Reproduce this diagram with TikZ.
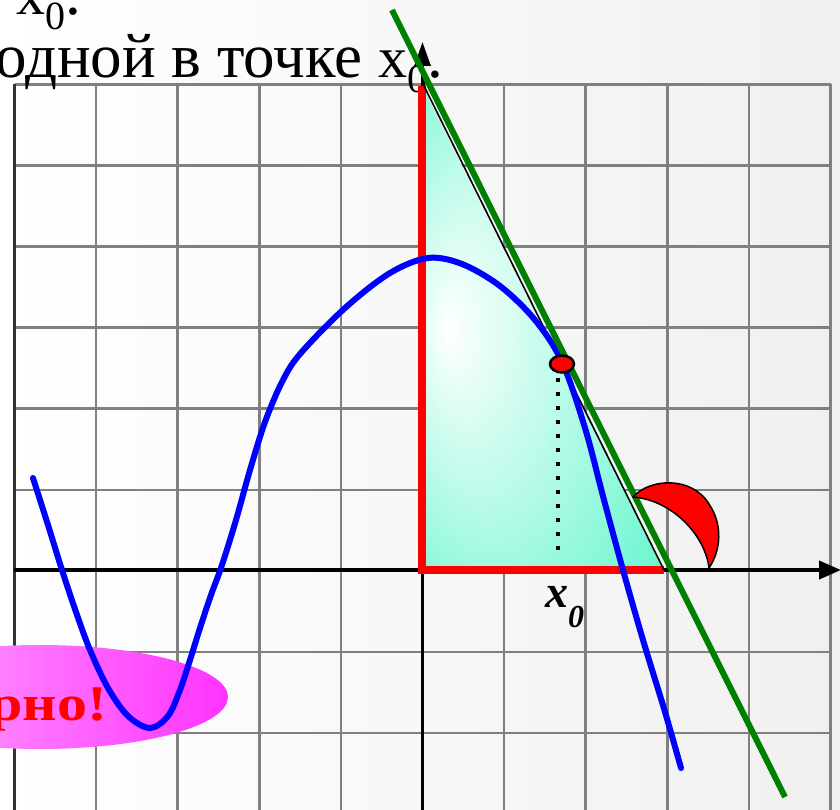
\documentclass[tikz,border=0pt]{standalone}
\usepackage{fontspec}
\setmainfont{Liberation Serif}
\usetikzlibrary{arrows.meta}
\definecolor{gridgray}{RGB}{128,128,128}
\definecolor{tangreen}{RGB}{0,128,0}
\definecolor{aquafill}{RGB}{100,245,205}
\definecolor{magfill}{RGB}{255,51,255}
\definecolor{bgright}{RGB}{240,240,240}
\pgfdeclareradialshading{trishade}{\pgfpoint{-20bp}{0bp}}{color(0bp)=(white); color(40bp)=(aquafill); color(50bp)=(aquafill)}
\pgfdeclarehorizontalshading{pinkshade}{100bp}{color(0bp)=(white); color(38bp)=(white!45!magfill); color(75bp)=(magfill); color(100bp)=(magfill)}
\tikzset{
  gridline/.style={draw=gridgray, line width=2.6pt},
  redline/.style={draw=red, line width=8pt, line join=miter},
  axisline/.style={draw=black},
  curveline/.style={draw=blue, line width=6pt, line join=round, line cap=round},
  txt/.style={inner sep=0pt, outer sep=0pt},
}
\begin{document}
\begin{tikzpicture}[x=1pt,y=-1pt]
\useasboundingbox (0,0) rectangle (840,810);
\clip (0,0) rectangle (840,810);
% background
\shade[left color=white, middle color=white, right color=bgright] (0,0) rectangle (840,810);
% grid
\foreach \i in {1,...,10} \draw[gridline] ({14.5+81.6*\i},84.3) -- ({14.5+81.6*\i},815);
\foreach \j in {0,...,9} \draw[gridline] (14.5,{84.3+81.1*\j}) -- (830.5,{84.3+81.1*\j});
\draw[draw=black!80, line width=2.6pt] (14.5,84.3) -- (14.5,815);
% top text
\node[txt, anchor=base east] (line1) at (81,15) {\fontsize{63}{63}\selectfont в точке {\fontsize{58}{58}\selectfont x}\raisebox{-15pt}{\fontsize{40}{40}\selectfont 0}.};
\node[txt, anchor=base east] (line2) at (443,78) {\fontsize{63}{63}\selectfont производной в точке {\fontsize{58}{58}\selectfont x}\raisebox{-15pt}{\fontsize{40}{40}\selectfont 0}.};
% pink ellipse
\shade[shading=pinkshade] (40,697) ellipse [x radius=188, y radius=52];
\node[txt, anchor=base east, text=red] (verno) at (107,720) {\scalebox{1.2}[1]{\fontsize{50}{50}\selectfont\bfseries Верно!}};
% triangle
\shade[shading=trishade] (422,86) -- (422,570) -- (664,570) -- cycle;
% axes
\draw[axisline, line width=4pt, -{Triangle[length=22pt,width=18pt]}] (14,570) -- (841,570);
\draw[axisline, line width=3pt, -{Triangle[length=24pt,width=16pt]}] (422.5,815) -- (422.5,42);
% red legs
\draw[redline] (422,86) -- (422,570) -- (664,570);
% hypotenuse
\draw[line width=1.6pt] (424,86) -- (664,570);
% curve
\draw[curveline] plot[smooth, tension=0.55] coordinates {
 (33,478) (48,525) (62,570) (76,612) (90,650) (108,688) (128,716) (150,728)
 (168,716) (180,690) (190,660) (200,628) (211,595) (222,565) (236,520) (250,470)
 (265,422) (282,382) (300,354) (345,308) (390,273) (428,258) (462,264) (500,286)
 (535,320) (562,362) (585,428) (604,500) (623,570) (643,640) (665,712) (681,768)};
% tangent
\draw[draw=tangreen, line width=6pt] (392,10) -- (785,797);
% dotted
\draw[line width=4pt, dash pattern=on 4pt off 10pt] (558,378) -- (558,556);
% point
\draw[fill=red, line width=2.5pt] (562,364) ellipse [x radius=12, y radius=8.5];
% angle mark
\draw[fill=red, line width=1.5pt, line join=round] (633,497) .. controls (650,478) and (692,476) .. (709,504) .. controls (723,525) and (721,550) .. (709,568) .. controls (705,535) and (672,500) .. (633,497) -- cycle;
% x0 label
\node[txt, anchor=base west] (xlabel) at (545,607) {\fontsize{46}{46}\selectfont\bfseries\itshape x\raisebox{-20pt}{\fontsize{32}{32}\selectfont 0}};
\end{tikzpicture}
\end{document}
